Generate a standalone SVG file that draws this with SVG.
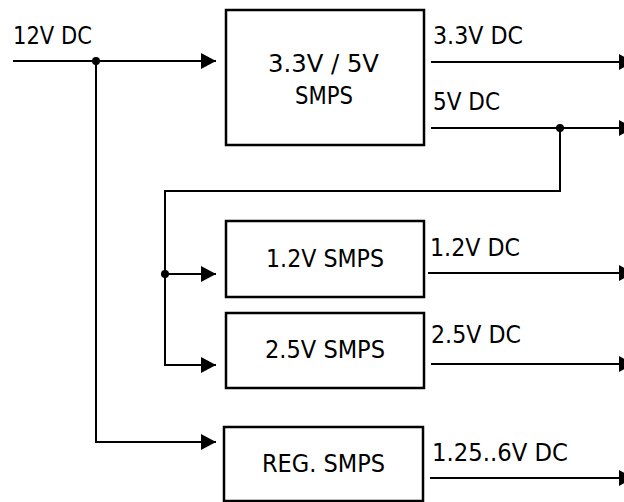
<svg xmlns="http://www.w3.org/2000/svg" width="624" height="502" viewBox="0 0 624 502">
<style>
.box{fill:#fff;stroke:#000;stroke-width:2.5}
.w{fill:none;stroke:#000;stroke-width:2}
text{font-family:"DejaVu Sans",sans-serif;font-size:25px;fill:#000}
</style>
<defs>
<marker id="ah" markerWidth="16" markerHeight="16" viewBox="0 0 16 16" refX="15" refY="8" orient="auto" markerUnits="userSpaceOnUse">
<path d="M0,0 L15,8 L0,16 Z" fill="#000"/>
</marker>
</defs>
<rect width="624" height="502" fill="#fff"/>
<g id="connectors">
<path class="w" d="M13,61 H216" marker-end="url(#ah)"/>
<path class="w" d="M96,61 V442 H216" marker-end="url(#ah)"/>
<path class="w" d="M431,62 H634" marker-end="url(#ah)"/>
<path class="w" d="M431,128 H634" marker-end="url(#ah)"/>
<path class="w" d="M560,128 V191 H165 V365 H216" marker-end="url(#ah)"/>
<path class="w" d="M165,274 H216" marker-end="url(#ah)"/>
<path class="w" d="M428,273 H634" marker-end="url(#ah)"/>
<path class="w" d="M431,364 H634" marker-end="url(#ah)"/>
<path class="w" d="M430,478 H634" marker-end="url(#ah)"/>
<circle cx="96" cy="61" r="4" fill="#000"/>
<circle cx="560" cy="128" r="4" fill="#000"/>
<circle cx="165" cy="274" r="4" fill="#000"/>
</g>
<g id="labels">
<text x="13" y="44" textLength="79" lengthAdjust="spacingAndGlyphs">12V DC</text>
<text x="433" y="44" textLength="90" lengthAdjust="spacingAndGlyphs">3.3V DC</text>
<text x="433" y="110" textLength="67" lengthAdjust="spacingAndGlyphs">5V DC</text>
<text x="430" y="256" textLength="90" lengthAdjust="spacingAndGlyphs">1.2V DC</text>
<text x="431" y="343" textLength="90" lengthAdjust="spacingAndGlyphs">2.5V DC</text>
<text x="432" y="461" textLength="136" lengthAdjust="spacingAndGlyphs">1.25..6V DC</text>
</g>
<g id="smps35">
<rect class="box" x="226" y="10" width="198" height="135"/>
<text x="268" y="72" textLength="111" lengthAdjust="spacingAndGlyphs">3.3V / 5V</text>
<text x="295" y="104" textLength="58" lengthAdjust="spacingAndGlyphs">SMPS</text>
</g>
<g id="smps12">
<rect class="box" x="226" y="221" width="198" height="76"/>
<text x="266" y="267" textLength="118" lengthAdjust="spacingAndGlyphs">1.2V SMPS</text>
</g>
<g id="smps25">
<rect class="box" x="226" y="313" width="198" height="75"/>
<text x="265" y="358" textLength="120" lengthAdjust="spacingAndGlyphs">2.5V SMPS</text>
</g>
<g id="regsmps">
<rect class="box" x="224" y="427" width="199" height="74"/>
<text x="262" y="472" textLength="123" lengthAdjust="spacingAndGlyphs">REG. SMPS</text>
</g>
</svg>
